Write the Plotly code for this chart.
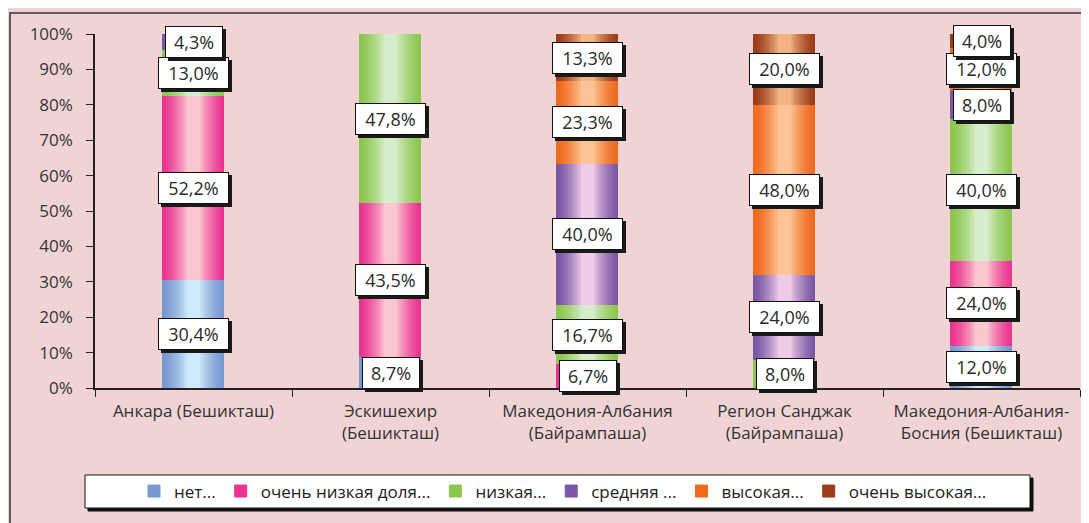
import plotly.graph_objects as go

# ---------------- data ----------------
categories = ["Анкара (Бешикташ)", "Эскишехир<br>(Бешикташ)", "Македония-Албания<br>(Байрампаша)",
              "Регион Санджак<br>(Байрампаша)", "Македония-Албания-<br>Босния (Бешикташ)"]
series_names = ["нет...", "очень низкая доля...", "низкая...", "средняя ...", "высокая...", "очень высокая..."]
net = [30.4, 8.7, 0.0, 0.0, 12.0]
very_low = [52.2, 43.5, 6.7, 0.0, 24.0]
low = [13.0, 47.8, 16.7, 8.0, 40.0]
medium = [4.3, 0.0, 40.0, 24.0, 8.0]
high = [0.0, 0.0, 23.3, 48.0, 12.0]
very_high = [0.0, 0.0, 13.3, 20.0, 4.0]
y_ticks = [0, 10, 20, 30, 40, 50, 60, 70, 80, 90, 100]

series_values = [net, very_low, low, medium, high, very_high]

# gradient styling (edge colour, centre colour)
edge_colors = ["#7a98d0", "#ea3590", "#8cc64e", "#7a58a6", "#f06a1e", "#9c3c1a"]
center_colors = ["#cdeafa", "#fac6cf", "#d6ecca", "#eecbe6", "#fcc496", "#f2b482"]

def hex2rgb(h):
    h = h.lstrip("#")
    return tuple(int(h[i:i + 2], 16) for i in (0, 2, 4))

def mix(c1, c2, t):
    a, b = hex2rgb(c1), hex2rgb(c2)
    return "rgb(%d,%d,%d)" % tuple(round(a[k] + (b[k] - a[k]) * t) for k in range(3))

BAR_W = 0.31
LAYERS = 16
FONT = "Open Sans, Noto Sans, sans-serif"

fig = go.Figure()

bases = [0.0] * len(categories)
label_specs = []
for s, (name, vals) in enumerate(zip(series_names, series_values)):
    ys = [v / 100 if v > 0 else None for v in vals]
    bs = [b / 100 for b in bases]
    for i in range(LAYERS):
        t = i / (LAYERS - 1)
        frac = 1 - 0.8 * t
        fig.add_trace(go.Bar(
            x=categories, y=ys, base=bs,
            width=[BAR_W * frac] * len(categories),
            name=name, legendgroup=name, showlegend=(i == 0),
            marker=dict(color=mix(edge_colors[s], center_colors[s], t ** 1.4),
                        line=dict(color=edge_colors[s], width=1 if i == 0 else 0)),
            hoverinfo="skip",
        ))
    for c, v in enumerate(vals):
        if v > 0:
            label_specs.append((categories[c], (bases[c] + v / 2) / 100, ("%.1f%%" % v).replace(".", ",")))
    bases = [b + v for b, v in zip(bases, vals)]

annotations = []
for xcat, yv, txt in label_specs:
    w = 13 * len(txt) - 2
    # drop shadow box (fixed size, no visible text)
    annotations.append(dict(x=xcat, y=yv, xref="x", yref="y", text=" ", showarrow=False,
                            xshift=3, yshift=-3, width=w, height=24, borderpad=3,
                            bgcolor="#1a1a1a", bordercolor="#1a1a1a", borderwidth=1,
                            font=dict(family=FONT, size=18, color="#1a1a1a")))
    annotations.append(dict(x=xcat, y=yv, xref="x", yref="y", text=txt, showarrow=False,
                            width=w, height=24, borderpad=3,
                            bgcolor="white", bordercolor="#111", borderwidth=1,
                            font=dict(family=FONT, size=18, color="#2a2a2a")))

# The page body adds an 8px margin; work in reference-screen pixels and shift.
OFF = 8
FW, FH = 1089 - OFF, 523 - OFF
PL, PR, PT, PB = 95, 1080, 34, 388          # plot area in reference pixels
L, R, T, B = PL - OFF, FW - (PR - OFF), PT - OFF, FH - (PB - OFF)
W, H = PR - PL, PB - PT
px = lambda x: (x - PL) / W
py = lambda y: (PB - y) / H

shapes = [
    # outer chart border
    dict(type="rect", xref="paper", yref="paper", x0=px(10), y0=py(600), x1=px(1200), y1=py(13),
         line=dict(color="#333", width=1.5), fillcolor="rgba(0,0,0,0)", layer="below"),
    # legend shadow
    dict(type="rect", xref="paper", yref="paper", x0=px(88), y0=py(511), x1=px(1033), y1=py(478),
         line=dict(color="#111", width=1), fillcolor="#111", layer="below"),
    # legend box
    dict(type="rect", xref="paper", yref="paper", x0=px(85), y0=py(508), x1=px(1030), y1=py(475),
         line=dict(color="#111", width=1), fillcolor="white", layer="below"),
]

fig.update_layout(
    width=FW, height=FH,
    margin=dict(l=L, r=R, t=T, b=B, autoexpand=False),
    paper_bgcolor="#f0d3d5", plot_bgcolor="#f0d3d5",
    barmode="overlay", bargap=0,
    font=dict(family=FONT, size=17, color="#333"),
    showlegend=True,
    legend=dict(orientation="h", x=px(563), xanchor="center", y=py(491.5), yanchor="middle",
                bgcolor="rgba(0,0,0,0)", borderwidth=0,
                font=dict(family=FONT, size=17, color="#222"), itemwidth=30,
                traceorder="normal"),
    annotations=annotations,
    shapes=shapes,
    xaxis=dict(type="category", showline=True, linecolor="#222", linewidth=1.5,
               ticks="outside", tickson="boundaries", ticklen=7, tickcolor="#222",
               showgrid=False, tickfont=dict(family=FONT, size=17, color="#333"),
               ticklabelstandoff=7,
               range=[-0.5, 4.5], fixedrange=True, automargin=False),
    yaxis=dict(range=[0, 1], tickvals=[v / 100 for v in y_ticks],
               ticktext=["%d%%" % v for v in y_ticks], showline=True, linecolor="#222",
               linewidth=1.5, ticks="outside", ticklen=7, tickcolor="#222", showgrid=False,
               zeroline=False, tickfont=dict(family=FONT, size=17, color="#333"),
               ticklabelstandoff=10,
               fixedrange=True, automargin=False),
)

fig.write_html("out.html")
